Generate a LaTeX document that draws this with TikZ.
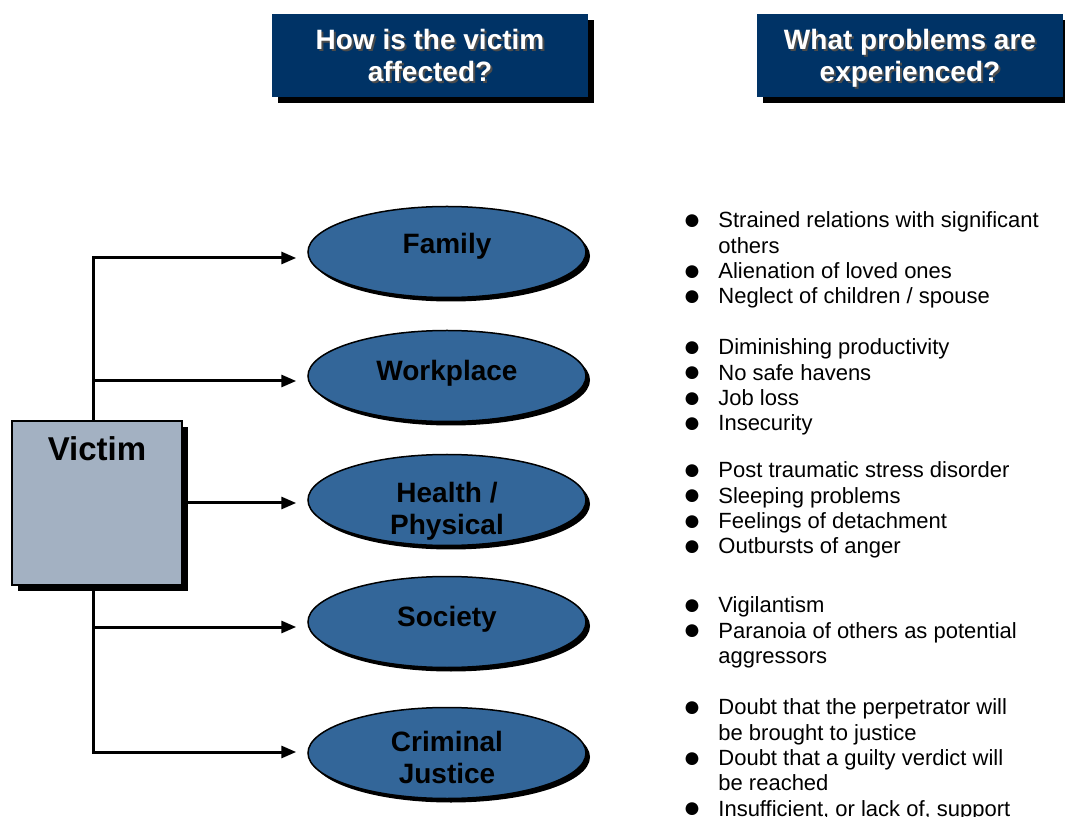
\documentclass[tikz,border=0pt]{standalone}
\usepackage{fontspec}
\setmainfont{Liberation Sans}
\usetikzlibrary{positioning,shapes.geometric,shadows,arrows.meta}

\definecolor{navy}{RGB}{0,51,102}
\definecolor{steel}{RGB}{51,102,153}
\definecolor{slate}{RGB}{163,177,194}

\newcommand{\shd}[1]{\makebox[0pt][l]{\hspace{1pt}\raisebox{-1pt}{\textcolor{black!70}{#1}}}#1}
\newcommand{\lift}[2]{\raisebox{#1}[\height][\depth]{#2}}
\newcommand{\bul}{\makebox[17pt][l]{\hspace{-0.6pt}\raisebox{-0.9pt}{\scalebox{1.35}{●}}}}
\newcommand{\cont}{\hspace*{17pt}}

\begin{document}
\begin{tikzpicture}[x=0.5pt,y=-0.5pt,
	head/.style={fill=navy,text=white,font=\fontsize{14}{16}\selectfont\bfseries,minimum height=41.5pt,inner sep=0pt,drop shadow={shadow xshift=3pt,shadow yshift=-3pt,fill=black,opacity=1}},
	area/.style={ellipse,draw,line width=0.75pt,fill=steel,minimum width=139pt,minimum height=45.5pt,inner sep=0pt,font=\fontsize{14}{16}\selectfont\bfseries,drop shadow={shadow xshift=2pt,shadow yshift=-2pt,fill=black,opacity=1}},
	problems/.style={anchor=north west,inner sep=0pt,align=left,font=\fontsize{11}{12.65}\selectfont},
	arr/.style={-{Triangle[length=7.5pt,width=6pt]},line width=1.5pt,shorten >=5.5pt}]

\useasboundingbox (0,0) rectangle (1065,817);

\node[head,minimum width=158pt](howhead) at (430,55.5) {\lift{-2pt}{\begin{tabular}{@{}c@{}}\shd{How is the victim}\\\shd{affected?}\end{tabular}}};
\node[head,minimum width=153pt](whathead) at (910,55.5) {\lift{-2pt}{\begin{tabular}{@{}c@{}}\shd{What problems are}\\\shd{experienced?}\end{tabular}}};

\coordinate(t1) at (93,258);
\coordinate(t2) at (93,381);
\coordinate(t4) at (93,627);
\coordinate(t5) at (93,752);
\draw[line width=1.5pt,line cap=rect](t1)--(t5);

\node[draw,line width=0.6pt,fill=slate,minimum width=85pt,inner ysep=8pt,text height=12pt,text depth=54pt,font=\fontsize{16.5}{18}\selectfont\bfseries,drop shadow={shadow xshift=3pt,shadow yshift=-3pt,fill=black,opacity=1}](victim) at (97,503) {Victim};

\node[area](family) at (447,252) {\lift{3pt}{Family}};
\node[area](workplace) at (447,376) {\lift{1.5pt}{Workplace}};
\node[area](health) at (447,500) {\lift{-6pt}{\begin{tabular}{@{}c@{}}Health /\\Physical\end{tabular}}};
\node[area](society) at (447,622) {\lift{1.5pt}{Society}};
\node[area](justice) at (447,753) {\lift{-4pt}{\begin{tabular}{@{}c@{}}Criminal\\Justice\end{tabular}}};

\foreach \c/\e in {t1/family,t2/workplace,t4/society,t5/justice}{
	\draw[arr](\c)--(\c-|\e.west);
}
\draw[arr](victim.east)--(victim.east-|health.west);

\node[problems](famlist) at (684,211.5) {\bul Strained relations with significant\\\cont others\\\bul Alienation of loved ones\\\bul Neglect of children / spouse};
\node[problems](worklist) at (684,338.5) {\bul Diminishing productivity\\\bul No safe havens\\\bul Job loss\\\bul Insecurity};
\node[problems](healthlist) at (684,461.5) {\bul Post traumatic stress disorder\\\bul Sleeping problems\\\bul Feelings of detachment\\\bul Outbursts of anger};
\node[problems](soclist) at (684,596.5) {\bul Vigilantism\\\bul Paranoia of others as potential\\\cont aggressors};
\node[problems](justlist) at (684,698.5) {\bul Doubt that the perpetrator will\\\cont be brought to justice\\\bul Doubt that a guilty verdict will\\\cont be reached\\\bul Insufficient, or lack of, support};

\end{tikzpicture}
\end{document}
